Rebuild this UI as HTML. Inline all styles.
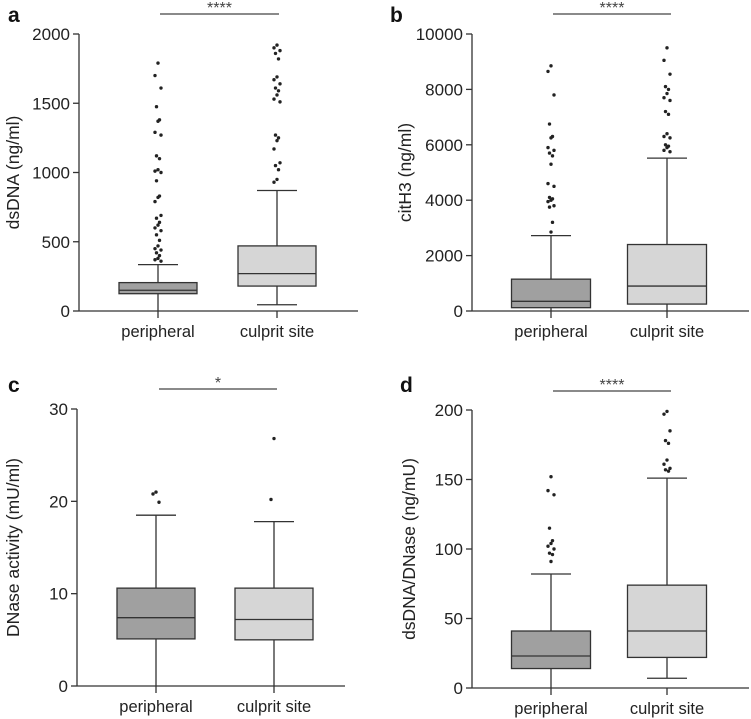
<!DOCTYPE html>
<html><head><meta charset="utf-8">
<style>
html,body{margin:0;padding:0;background:#fff;}
svg{display:block;font-family:"Liberation Sans",Arial,sans-serif;}
</style></head>
<body>
<svg id="fig" width="751" height="719" viewBox="0 0 751 719" xmlns="http://www.w3.org/2000/svg"></svg>
<script>
const categories = ["peripheral","culprit site"];
// panel a
const aStats = [[0,125,150,205,335],[45,180,270,470,870]];
const aOut = [[1790,1700,1610,1475,1380,1370,1290,1270,1120,1100,1020,1010,1000,940,830,820,790,690,670,640,620,600,580,550,510,470,450,440,420,400,380,370,360],
[1920,1900,1880,1860,1820,1690,1670,1640,1610,1590,1560,1530,1510,1270,1250,1230,1170,1070,1050,1020,950,930]];
const aTicks = [0,500,1000,1500,2000];
// panel b
const bStats = [[0,120,350,1150,2720],[0,250,900,2400,5520]];
const bOut = [[8850,8650,7800,6750,6300,6250,5900,5800,5700,5600,5300,4600,4500,4100,4050,4000,3950,3800,3750,3200,2850],
[9500,9050,8550,8100,8000,7850,7700,7600,7200,7100,6400,6300,6250,6000,5950,5900,5800,5750]];
const bTicks = [0,2000,4000,6000,8000,10000];
// panel c
const cStats = [[0,5.1,7.4,10.6,18.5],[0,5.0,7.2,10.6,17.8]];
const cOut = [[21,20.8,19.9],[26.8,20.2]];
const cTicks = [0,10,20,30];
// panel d
const dStats = [[0,14,23,41,82],[7,22,41,74,151]];
const dOut = [[152,142,139,115,106,104,102,100,97,96,91],[199,197,185,178,176,164,161,158,157,156]];
const dTicks = [0,50,100,150,200];

const panels = [
 {id:"a",letter:"a",title:"dsDNA (ng/ml)",stats:aStats,out:aOut,ticks:aTicks,max:2000,ax:79,ay0:311,ay1:34,xEnd:358,cx:[158,277],bw:78,br:[160,279,14],sig:"****",lx:8,ly:22,ty:19},
 {id:"b",letter:"b",title:"citH3 (ng/ml)",stats:bStats,out:bOut,ticks:bTicks,max:10000,ax:472,ay0:311,ay1:34,xEnd:749,cx:[551,667],bw:79,br:[553,671,14],sig:"****",lx:390,ly:22,ty:411},
 {id:"c",letter:"c",title:"DNase activity (mU/ml)",stats:cStats,out:cOut,ticks:cTicks,max:30,ax:77,ay0:686,ay1:409,xEnd:345,cx:[156,274],bw:78,br:[159,277,389],sig:"*",lx:8,ly:392,ty:19},
 {id:"d",letter:"d",title:"dsDNA/DNase (ng/mU)",stats:dStats,out:dOut,ticks:dTicks,max:200,ax:472,ay0:688,ay1:410,xEnd:749,cx:[551,667],bw:79,br:[553,671,391],sig:"****",lx:400,ly:392,ty:415}
];
const fills = ["#a0a0a0","#d6d6d6"];
const svg = document.getElementById("fig");
const NS = "http://www.w3.org/2000/svg";
function mk(tag, attrs, parent){const e=document.createElementNS(NS,tag);for(const k in attrs)e.setAttribute(k,attrs[k]);parent.appendChild(e);return e;}

panels.forEach(p=>{
  const g = mk("g",{},svg);
  
  
  const y = v => p.ay0 - (v/p.max)*(p.ay0-p.ay1);
  const L = mk("text",{x:p.lx,y:p.ly,"font-size":"21","font-weight":"bold",fill:"#111"},g);
  L.textContent = p.letter;
  
  
  const ya = mk("line",{x1:p.ax,y1:p.ay1,x2:p.ax,y2:p.ay0,stroke:"#333","stroke-width":"1.3"},g);
  
  
  const xa = mk("line",{x1:p.ax,y1:p.ay0,x2:p.xEnd,y2:p.ay0,stroke:"#333","stroke-width":"1.3"},g);
  
  
  p.ticks.forEach(t=>{
    mk("line",{x1:p.ax-6,y1:y(t),x2:p.ax,y2:y(t),stroke:"#333","stroke-width":"1.3"},g);
    const tl = mk("text",{x:p.ax-9,y:y(t)+6,"font-size":"17","text-anchor":"end",fill:"#222"},g);
    tl.textContent = t;
    
    
  });
  const yt = mk("text",{x:0,y:0,"font-size":"17.5","text-anchor":"middle",fill:"#222",transform:`translate(${p.ty},${(p.ay0+p.ay1)/2}) rotate(-90)`},g);
  yt.textContent = p.title;
  
  
  categories.forEach((c,i)=>{
    const cx = p.cx[i], s = p.stats[i], hw = p.bw/2;
    mk("line",{x1:cx,y1:p.ay0,x2:cx,y2:p.ay0+7,stroke:"#333","stroke-width":"1.3"},g);
    const xl = mk("text",{x:cx,y:p.ay0+26,"font-size":"16.5","text-anchor":"middle",fill:"#222"},g);
    xl.textContent = c;
    
    
    const bg = mk("g",{},g);
    
    
    mk("line",{x1:cx,y1:y(s[0]),x2:cx,y2:y(s[4]),stroke:"#333","stroke-width":"1.3"},bg);
    mk("line",{x1:cx-20,y1:y(s[4]),x2:cx+20,y2:y(s[4]),stroke:"#333","stroke-width":"1.3"},bg);
    if(s[0]>0) mk("line",{x1:cx-20,y1:y(s[0]),x2:cx+20,y2:y(s[0]),stroke:"#333","stroke-width":"1.3"},bg);
    mk("rect",{x:cx-hw,y:y(s[3]),width:p.bw,height:y(s[1])-y(s[3]),fill:fills[i],stroke:"#333","stroke-width":"1.3"},bg);
    mk("line",{x1:cx-hw,y1:y(s[2]),x2:cx+hw,y2:y(s[2]),stroke:"#333","stroke-width":"1.3"},bg);
    p.out[i].forEach((v,k)=>{
      const off = [0,-3,3,-1.5,1.5][k%5];
      const d = mk("circle",{cx:cx+off,cy:y(v),r:1.7,fill:"#222"},bg);
      
      
    });
  });
  const bl = mk("line",{x1:p.br[0],y1:p.br[2],x2:p.br[1],y2:p.br[2],stroke:"#444","stroke-width":"1.2"},g);
  
  
  const st = mk("text",{x:(p.br[0]+p.br[1])/2,y:p.br[2]-1,"font-size":"16","text-anchor":"middle",fill:"#444"},g);
  st.textContent = p.sig;
  
  
});
</script>
</body></html>
